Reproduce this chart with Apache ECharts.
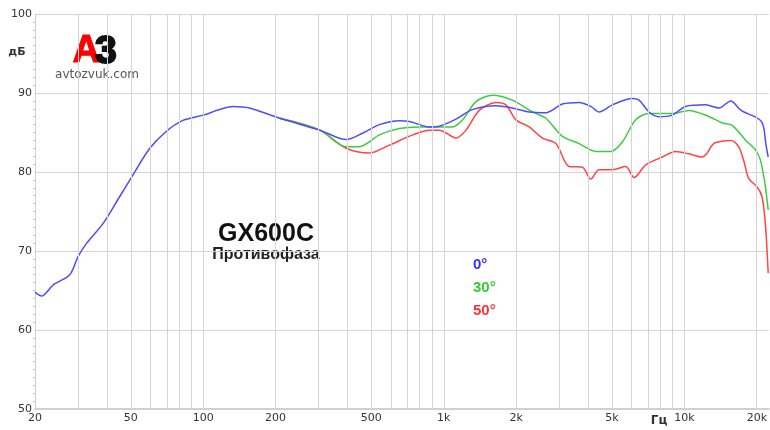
<!DOCTYPE html>
<html>
<head>
<meta charset="utf-8">
<script src="https://cdn.jsdelivr.net/npm/echarts@6/dist/echarts.min.js"></script>
<style>
  html, body { margin: 0; padding: 0; background: #fff; }
  #chart { width: 770px; height: 430px; }
</style>
</head>
<body>
<div id="chart"></div>
<script>
// values: frequency in Hz, level in dB
var freq0 = [20, 21.3, 23.8, 27.9, 30.2, 32.8, 38.4, 45, 51, 60, 70, 82, 100, 117, 133, 156, 208, 305, 393, 459, 540, 654, 719, 871, 958, 1124, 1313, 1647, 1925, 2265, 2656, 3112, 3652, 4083, 4420, 5020, 6078, 6478, 7128, 7840, 8904, 10118, 12248, 13910, 15600, 17200, 19600, 20900, 21400, 21800, 22300];
var db0 = [64.8, 64.3, 65.7, 67.0, 69.3, 71.0, 73.5, 76.9, 79.6, 83.0, 85.1, 86.5, 87.2, 87.9, 88.3, 88.1, 86.8, 85.3, 84.1, 84.9, 86.0, 86.5, 86.4, 85.7, 85.8, 86.7, 87.9, 88.4, 88.1, 87.6, 87.5, 88.6, 88.8, 88.3, 87.6, 88.5, 89.3, 89.1, 87.6, 87.0, 87.2, 88.3, 88.5, 88.1, 89.0, 87.8, 87.0, 86.4, 85.5, 83.6, 81.9];

var freq30 = [208, 305, 393, 446, 540, 654, 792, 1088, 1197, 1361, 1595, 1925, 2337, 2656, 3112, 3652, 4282, 4943, 5521, 6276, 7128, 8904, 10442, 12700, 14400, 15800, 18000, 19750, 20700, 21600, 22300];
var db30 = [86.8, 85.3, 83.2, 83.2, 84.7, 85.5, 85.7, 85.7, 86.6, 88.9, 89.7, 89.1, 87.6, 86.8, 84.5, 83.6, 82.6, 82.6, 83.8, 86.6, 87.4, 87.4, 87.8, 87.0, 86.2, 85.9, 84.0, 82.8, 81.5, 78.6, 75.2];

var freq50 = [208, 305, 393, 491, 594, 743, 871, 958, 1124, 1237, 1404, 1647, 1813, 1994, 2265, 2570, 2922, 3320, 3768, 4083, 4420, 5020, 5706, 6176, 6906, 8092, 9198, 10442, 11858, 12442, 12900, 13400, 15600, 16800, 17700, 18500, 20060, 21000, 21700, 22300];
var db50 = [86.8, 85.3, 83.0, 82.4, 83.4, 84.7, 85.3, 85.3, 84.3, 85.3, 87.8, 88.8, 88.5, 86.6, 85.7, 84.3, 83.6, 80.7, 80.6, 79.1, 80.3, 80.3, 80.7, 79.3, 80.9, 81.9, 82.6, 82.3, 81.9, 82.4, 83.2, 83.7, 84.0, 83.2, 81.3, 79.2, 78.1, 76.9, 73.5, 67.2];

var gridFreqs = [20, 30, 40, 50, 60, 70, 80, 90, 100, 200, 300, 400, 500, 600, 700, 800, 900,
  1000, 2000, 3000, 4000, 5000, 6000, 7000, 8000, 9000, 10000, 20000];
var labelFreqs = [20, 50, 100, 200, 500, 1000, 2000, 5000, 10000, 20000];

function toPoints(f, d) {
  return f.map(function (v, i) { return [Math.log10(v), d[i]]; });
}

function fmtFreq(v) {
  var f = Math.round(Math.pow(10, v));
  return f >= 1000 ? (f / 1000) + 'k' : String(f);
}

var chart = echarts.init(document.getElementById('chart'));

var option = {
  animation: false,
  backgroundColor: '#fff',
  grid: { left: 35, right: 0, top: 14, bottom: 21 },
  xAxis: {
    type: 'value',
    min: Math.log10(20),
    max: Math.log10(22420),
    axisLine: { show: true, lineStyle: { color: '#d0d0d0', width: 2 } },
    axisTick: { show: false },
    splitLine: { show: false },
    axisLabel: {
      customValues: labelFreqs.map(function (f) { return Math.log10(f); }),
      formatter: fmtFreq,
      color: '#333',
      fontSize: 11,
      fontFamily: 'DejaVu Sans',
      margin: 4
    }
  },
  yAxis: {
    type: 'value',
    min: 50,
    max: 100,
    interval: 10,
    axisLine: { show: true, lineStyle: { color: '#d0d0d0' } },
    axisTick: { show: false },
    minorTick: { show: true, splitNumber: 10, length: 2, lineStyle: { color: '#c8c8c8' } },
    splitLine: { lineStyle: { color: '#d4d4d4', width: 1 } },
    axisLabel: { color: '#333', fontSize: 11, fontFamily: 'DejaVu Sans', margin: 3 }
  },
  series: [
    {
      name: 'grid',
      type: 'line',
      data: [],
      silent: true,
      z: 1,
      markLine: {
        silent: true,
        symbol: 'none',
        label: { show: false },
        lineStyle: { color: '#d4d4d4', width: 1, type: 'solid' },
        data: gridFreqs.map(function (f) { return { xAxis: Math.log10(f) }; })
      }
    },
    {
      name: '50°',
      type: 'line',
      data: toPoints(freq50, db50),
      showSymbol: false,
      smooth: 0.3,
      lineStyle: { color: '#ff4444', width: 1.5 }
    },
    {
      name: '30°',
      type: 'line',
      data: toPoints(freq30, db30),
      showSymbol: false,
      smooth: 0.3,
      lineStyle: { color: '#3ccc3c', width: 1.5 }
    },
    {
      name: '0°',
      type: 'line',
      data: toPoints(freq0, db0),
      showSymbol: false,
      smooth: 0.3,
      lineStyle: { color: '#4d4dff', width: 1.5 }
    }
  ],
  graphic: [
    { type: 'text', x: 100, y: 52, style: { text: 'A', fill: '#ff0000', stroke: '#ff0000', lineWidth: 1, font: 'bold 38px "Liberation Sans"', textAlign: 'right', textVerticalAlign: 'middle' } },
    { type: 'text', x: 95, y: 52, style: { text: '3', fill: '#111', stroke: '#111', lineWidth: 2, font: 'bold 39px "Liberation Sans"', textAlign: 'left', textVerticalAlign: 'middle' } },
    { type: 'text', x: 97, y: 75, style: { text: 'avtozvuk.com', fill: '#555', font: '12px "DejaVu Sans"', textAlign: 'center', textVerticalAlign: 'middle' } },
    { type: 'text', x: 17, y: 52, style: { text: 'дБ', fill: '#333', font: 'bold 11px "DejaVu Sans"', textAlign: 'center', textVerticalAlign: 'middle' } },
    { type: 'text', x: 659, y: 421, style: { text: 'Гц', fill: '#333', font: 'bold 12px "DejaVu Sans"', textAlign: 'center', textVerticalAlign: 'middle' } },
    { type: 'text', x: 266, y: 234, style: { text: 'GX600C', fill: '#111', font: 'bold 25px "Liberation Sans"', textAlign: 'center', textVerticalAlign: 'middle' } },
    { type: 'text', x: 266, y: 255, style: { text: 'Противофаза', fill: '#222', font: 'bold 16px "Liberation Sans"', textAlign: 'center', textVerticalAlign: 'middle' } },
    { type: 'text', x: 473, y: 265, style: { text: '0°', fill: '#3333ff', font: 'bold 15px "Liberation Sans"', textAlign: 'left', textVerticalAlign: 'middle' } },
    { type: 'text', x: 473, y: 288, style: { text: '30°', fill: '#33cc33', font: 'bold 15px "Liberation Sans"', textAlign: 'left', textVerticalAlign: 'middle' } },
    { type: 'text', x: 473, y: 311, style: { text: '50°', fill: '#ff3333', font: 'bold 15px "Liberation Sans"', textAlign: 'left', textVerticalAlign: 'middle' } }
  ]
};

chart.setOption(option);
</script>
</body>
</html>
